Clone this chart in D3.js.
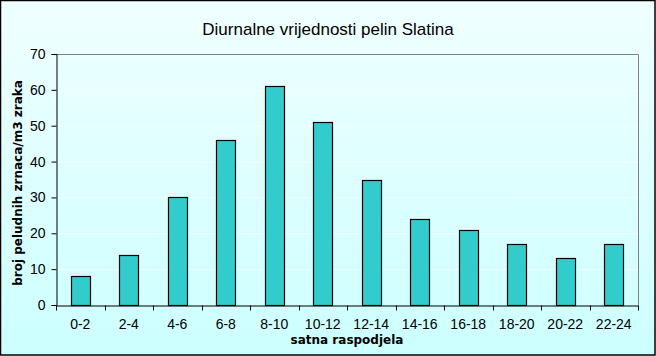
<!DOCTYPE html>
<html><head><meta charset="utf-8">
<script src="https://cdn.jsdelivr.net/npm/d3@7"></script>
<style>body{margin:0;padding:0;overflow:hidden}svg{display:block}</style>
</head><body>
<svg id="c" width="656" height="356"></svg>
<script>
const categories = ["0-2","2-4","4-6","6-8","8-10","10-12","12-14","14-16","16-18","18-20","20-22","22-24"];
const values = [8,14,30,46,61,51,35,24,21,17,13,17];
const yTicks = [0,10,20,30,40,50,60,70];
const title = "Diurnalne vrijednosti pelin Slatina";
const xTitle = "satna raspodjela";
const yTitle = "broj peludnih zrnaca/m3 zraka";

const W = 656, H = 356;
const m = {left:56, right:638, top:54, bottom:305};
const svg = d3.select("#c");
const defs = svg.append("defs");
const g = defs.append("linearGradient").attr("id","bg").attr("x1",0).attr("y1",0).attr("x2",0).attr("y2",1);
g.append("stop").attr("offset","0%").attr("stop-color","#F0FFFF");
g.append("stop").attr("offset","100%").attr("stop-color","#CCFFFF");
svg.append("rect").attr("x",0.5).attr("y",0.5).attr("width",W-1.5).attr("height",H-1.5)
  .attr("fill","url(#bg)").attr("stroke","#000").attr("stroke-width",1.5);

const x = d3.scaleBand().domain(categories).range([m.left,m.right]);
const y = d3.scaleLinear().domain([0,70]).range([m.bottom,m.top]);

// gridlines
svg.append("g").selectAll("line").data(yTicks.slice(1,-1)).join("line")
  .attr("x1",m.left).attr("x2",m.right).attr("y1",d=>y(d)+0.5).attr("y2",d=>y(d)+0.5)
  .attr("stroke","#ffffff").attr("stroke-opacity",0.6);

// plot border top/right
svg.append("path").attr("d",`M${m.left},${m.top+0.5}H${m.right+0.5}V${m.bottom}`)
  .attr("fill","none").attr("stroke","#808080");

// bars
const bw = x.bandwidth()*0.385;
svg.append("g").selectAll("rect").data(values).join("rect")
  .attr("x",(d,i)=>Math.round(x(categories[i])+x.bandwidth()/2-bw/2)+0.5)
  .attr("y",d=>Math.round(y(d))+0.5)
  .attr("width",Math.round(bw))
  .attr("height",d=>Math.round(y(0))-Math.round(y(d)))
  .attr("fill","#33CCCC").attr("stroke","#000").attr("stroke-width",1.2);

// y axis
const ya = svg.append("g").attr("transform",`translate(${m.left+0.5},0)`)
  .call(d3.axisLeft(y).tickValues(yTicks).tickSize(5).tickPadding(6));
// x axis
const xa = svg.append("g").attr("transform",`translate(0,${m.bottom+0.5})`)
  .call(d3.axisBottom(x).tickSize(0).tickPadding(14));
xa.append("g").selectAll("line").data(d3.range(categories.length+1)).join("line")
  .attr("x1",i=>Math.round(m.left+i*x.step())+0.5).attr("x2",i=>Math.round(m.left+i*x.step())+0.5)
  .attr("y1",0).attr("y2",5).attr("stroke","#000");
[ya,xa].forEach(a=>{
  a.select(".domain").attr("stroke","#000");
  a.selectAll(".tick line").attr("stroke","#000");
  a.selectAll("text").attr("font-family","'Liberation Sans', Arial, sans-serif").attr("font-size",14).attr("fill","#000");
});

svg.append("text").attr("x",328).attr("y",35).attr("text-anchor","middle")
  .attr("font-family","'Liberation Sans', Arial, sans-serif").attr("font-size",17).text(title);
svg.append("text").attr("x",347).attr("y",344).attr("text-anchor","middle")
  .attr("font-family","'DejaVu Sans', Verdana, sans-serif").attr("font-weight","bold").attr("font-size",12).text(xTitle);
svg.append("text").attr("transform","translate(22,183) rotate(-90)").attr("text-anchor","middle")
  .attr("font-family","'DejaVu Sans', Verdana, sans-serif").attr("font-weight","bold").attr("font-size",12).text(yTitle);
</script>
</body></html>
